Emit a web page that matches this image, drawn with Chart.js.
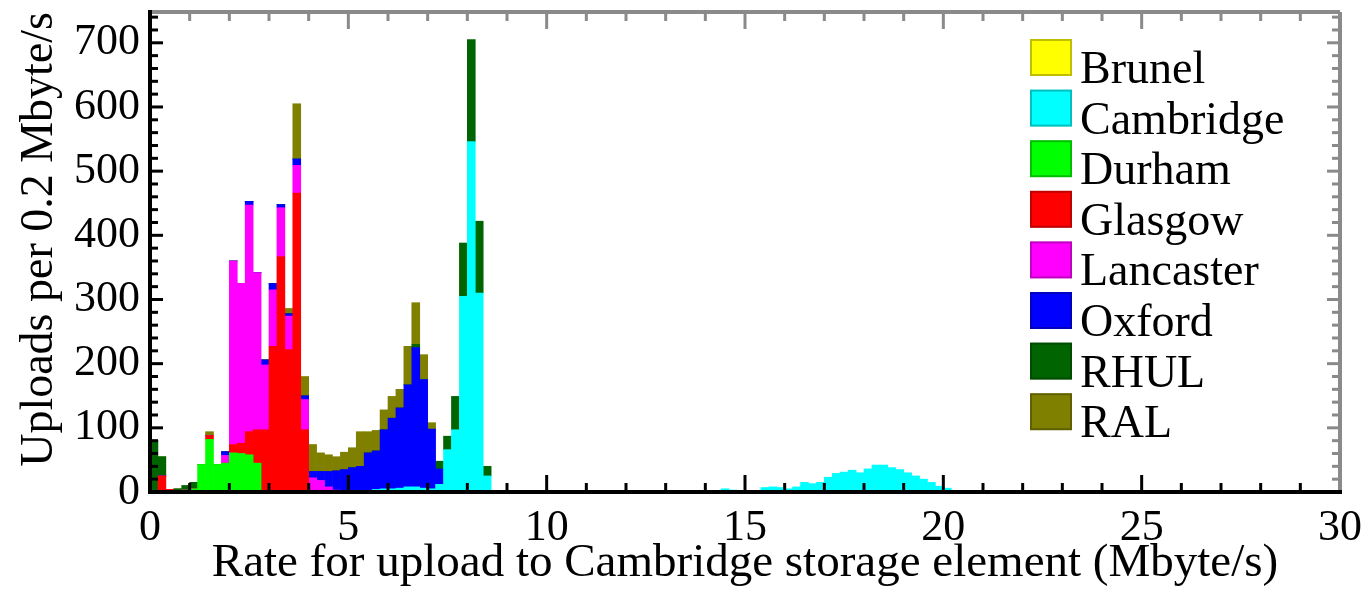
<!DOCTYPE html>
<html>
<head>
<meta charset="utf-8">
<script src="https://cdn.jsdelivr.net/npm/chart.js@4/dist/chart.umd.min.js"></script>
<style>
  html, body { margin: 0; padding: 0; background: #fff; }
  canvas { display: block; }
</style>
</head>
<body>
<canvas id="rateChart" width="1370" height="594"></canvas>
<script>
// =========================
// DATA (uploads per 0.2 Mbyte/s bin, bin 0 = 0.0-0.2)
// =========================

var binWidth = 0.2;
var siteNames = ["Brunel", "Cambridge", "Durham", "Glasgow", "Lancaster", "Oxford", "RHUL", "RAL"];
var siteColors = ["#ffff00", "#00ffff", "#00ff00", "#ff0000", "#ff00ff", "#0000ff", "#006400", "#808000"];
var xTickLabels = [0, 5, 10, 15, 20, 25, 30];
var yTickLabels = [0, 100, 200, 300, 400, 500, 600, 700];

var brunel = [0, 0, 0, 0, 0, 0];
var cambridge = [0, 0, 0, 0, 0, 0, 0, 0, 0, 0, 0, 0, 0, 0, 0, 0, 0, 0, 0, 0,
  0, 0, 0, 0, 0, 0, 0, 0, 4, 5, 5, 6, 8, 8, 6, 5, 12, 66, 97, 305,
  546, 310, 25, 0, 0, 0, 0, 0, 0, 0, 0, 0, 0, 0, 0, 0, 0, 0, 0, 0,
  0, 0, 0, 0, 0, 0, 0, 0, 0, 0, 0, 0, 5, 3, 0, 0, 0, 7, 8, 7,
  5, 8, 15, 13, 15, 23, 29, 31, 34, 30, 36, 42, 42, 38, 35, 30, 25, 20, 15, 9,
  6, 2];
var durham = [0, 0, 0, 0, 3, 5, 43, 82, 43, 45, 61, 60, 58, 45];
var glasgow = [0, 25, 4, 0, 0, 0, 0, 6, 0, 0, 13, 16, 36, 52, 97, 227, 367, 222, 466, 97];
var lancaster = [0, 0, 0, 0, 0, 0, 0, 0, 0, 12, 286, 249, 353, 245, 101, 88, 76, 52, 43, 47,
  22, 18, 8, 3];
var oxford = [0, 0, 0, 0, 0, 0, 0, 0, 0, 6, 0, 0, 6, 0, 8, 10, 5, 4, 10, 6,
  10, 14, 24, 30, 35, 38, 40, 61, 60, 92, 110, 125, 159, 217, 169, 93, 24];
var rhul = [80, 30, 0, 5, 7, 10, 0, 0, 0, 0, 0, 0, 0, 0, 0, 0, 0, 0, 0, 0,
  0, 0, 0, 0, 0, 0, 0, 0, 0, 0, 0, 0, 0, 5, 0, 0, 12, 21, 52, 83,
  159, 112, 15];
var ral = [0, 0, 0, 0, 0, 0, 0, 6, 0, 0, 0, 0, 0, 0, 0, 0, 0, 8, 86, 30,
  42, 29, 26, 22, 27, 31, 54, 33, 32, 31, 34, 29, 60, 65, 39, 10];

var siteCounts = [brunel, cambridge, durham, glasgow, lancaster, oxford, rhul, ral];

// =========================
// HELPERS
// =========================

function toPoints(counts) {
  return counts.map(function (v, i) {
    return { x: (i + 0.5) * binWidth, y: v };
  });
}

var serif = "'Liberation Serif', 'DejaVu Serif', serif";

// inward ticks + frame, ROOT style
var frameTicks = {
  id: "frameTicks",
  afterDatasetsDraw: function (chart) {
    var ctx = chart.ctx;
    var a = chart.chartArea;
    var x = chart.scales.x;
    var y = chart.scales.y;

    function seg(x1, y1, x2, y2) {
      ctx.beginPath();
      ctx.moveTo(x1, y1);
      ctx.lineTo(x2, y2);
      ctx.stroke();
    }

    ctx.save();
    ctx.lineWidth = 3;
    for (var v = 0; v <= 30; v++) {
      var px = x.getPixelForValue(v);
      var len = v % 5 === 0 ? 17 : 9;
      ctx.strokeStyle = "#000";
      seg(px, a.bottom, px, a.bottom - len);
      ctx.strokeStyle = "#8a8a8a";
      seg(px, a.top, px, a.top + len);
    }
    for (var w = 0; w <= 740; w += 20) {
      var py = y.getPixelForValue(w);
      var l2 = w % 100 === 0 ? 13 : 8;
      ctx.strokeStyle = "#000";
      seg(a.left, py, a.left + l2, py);
      ctx.strokeStyle = "#8a8a8a";
      seg(a.right, py, a.right - l2, py);
    }

    ctx.lineWidth = 4;
    ctx.strokeStyle = "#8a8a8a";
    seg(a.left, a.top, a.right, a.top);
    seg(a.right, a.top, a.right, a.bottom);
    ctx.strokeStyle = "#000";
    seg(a.left, a.top - 2, a.left, a.bottom + 2);
    seg(a.left - 2, a.bottom, a.right + 2, a.bottom);
    ctx.restore();
  }
};

// legend box inside the plot, top right
var boxLegend = {
  id: "boxLegend",
  afterDraw: function (chart) {
    var ctx = chart.ctx;
    ctx.save();
    ctx.font = "46px " + serif;
    ctx.textBaseline = "alphabetic";
    ctx.textAlign = "left";
    chart.data.datasets.forEach(function (ds, i) {
      var top = 39 + i * 50.6;
      ctx.fillStyle = ds.backgroundColor;
      ctx.fillRect(1030, top, 42, 37);
      ctx.strokeStyle = "rgba(0,0,0,0.25)";
      ctx.lineWidth = 2;
      ctx.strokeRect(1031, top + 1, 40, 35);
      ctx.fillStyle = "#000";
      ctx.fillText(ds.label, 1080, top + 44);
    });
    ctx.restore();
  }
};

// =========================
// STACKED HISTOGRAM
// =========================

var rateCanvas = document.getElementById("rateChart");

var rateData = {
  datasets: siteNames.map(function (name, i) {
    return {
      label: name,
      data: toPoints(siteCounts[i]),
      backgroundColor: siteColors[i],
      borderWidth: 0,
      barPercentage: 1,
      categoryPercentage: 1,
    };
  }),
};

var rateOptions = {
  responsive: false,
  animation: false,
  layout: {
    padding: { top: 12, right: 30, left: 0, bottom: 0 },
  },
  plugins: {
    legend: { display: false },
    tooltip: { enabled: false },
  },
  scales: {
    x: {
      type: "linear",
      stacked: true,
      offset: false,
      min: 0,
      max: 30,
      afterFit: function (scale) {
        scale.height = 102;
        scale.paddingLeft = 0;
        scale.paddingRight = 0;
      },
      afterBuildTicks: function (scale) {
        scale.ticks = xTickLabels.map(function (v) { return { value: v }; });
      },
      grid: { display: false, drawTicks: false, offset: false },
      border: { display: false },
      ticks: {
        color: "#000",
        padding: 10,
        font: { family: serif, size: 44 },
        maxRotation: 0,
        autoSkip: false,
      },
      title: {
        display: true,
        text: "Rate for upload to Cambridge storage element (Mbyte/s)",
        color: "#000",
        font: { family: serif, size: 47 },
        padding: { top: 2, bottom: 2 },
      },
    },
    y: {
      stacked: true,
      min: 0,
      max: 748,
      afterFit: function (scale) {
        scale.width = 150;
        scale.paddingTop = 0;
        scale.paddingBottom = 0;
      },
      afterBuildTicks: function (scale) {
        scale.ticks = yTickLabels.map(function (v) { return { value: v }; });
      },
      grid: { display: false, drawTicks: false },
      border: { display: false },
      ticks: {
        color: "#000",
        padding: 10,
        font: { family: serif, size: 44 },
      },
      title: {
        display: true,
        text: "Uploads per 0.2 Mbyte/s",
        align: "end",
        color: "#000",
        font: { family: serif, size: 46 },
        padding: { top: 12, bottom: 0 },
      },
    },
  },
};

new Chart(rateCanvas, {
  type: "bar",
  data: rateData,
  options: rateOptions,
  plugins: [frameTicks, boxLegend],
});
</script>
</body>
</html>
